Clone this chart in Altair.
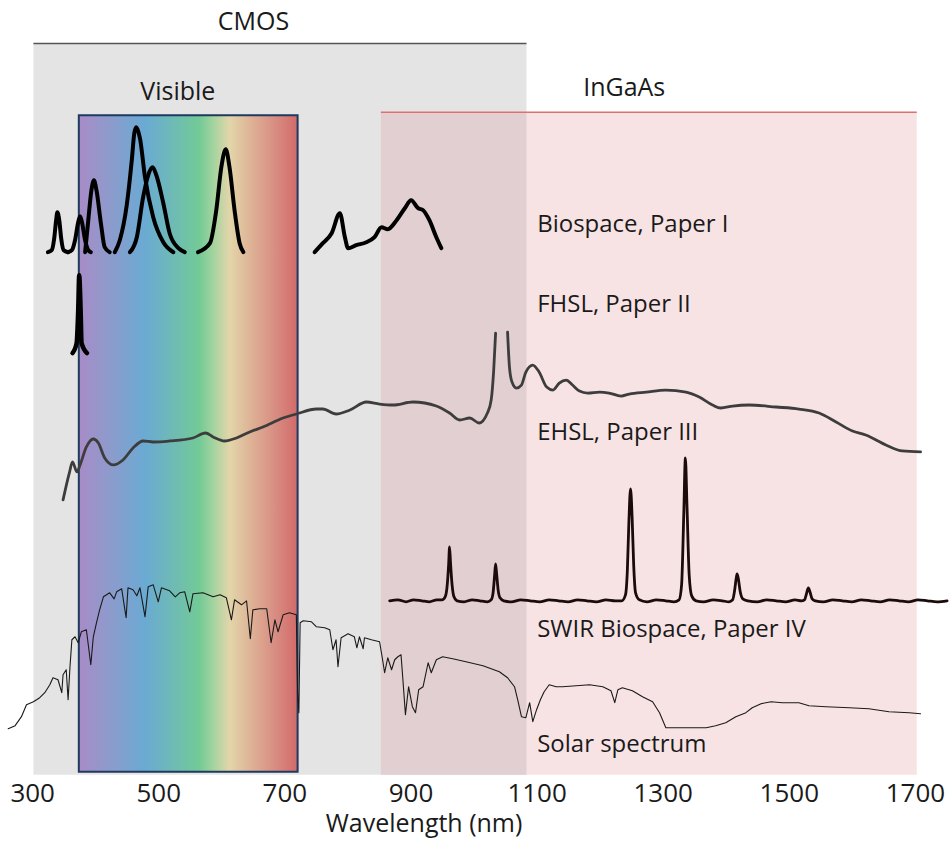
import altair as alt
import pandas as pd

# ---------------------------------------------------------------
# Spectra: (wavelength in nm, stacked signal level in a.u.)
# ---------------------------------------------------------------
bio_a = [(325, 523), (331, 525), (335, 537), (338, 555), (340, 563), (343, 555), (346, 537), (350, 525), (357, 523)]
bio_b = [(357, 523), (363, 525), (368, 535), (373, 553), (376, 559), (379, 553), (384, 535), (389, 525), (393, 523)]
bio_c = [(384, 523), (389, 555), (394, 585), (398, 595), (402, 585), (409, 552), (415, 528), (423, 523)]
bio_d = [(431, 523), (439, 535), (450, 570), (458, 615), (462, 642), (465, 648), (467, 646), (471, 637),
         (479, 598), (492, 558), (508, 533), (524, 523)]
bio_e = [(455, 523), (466, 538), (476, 578), (484, 600), (491, 608), (497, 600), (508, 572), (518, 542),
         (532, 527), (542, 523)]
bio_f = [(563, 523), (582, 532), (592, 565), (600, 608), (607, 626), (613, 608), (621, 565), (629, 532), (635, 523)]
bio_nir = [(748, 523), (761, 532), (775, 542), (788, 562), (796, 538), (801, 527), (814, 530), (830, 533),
           (843, 538), (854, 548), (864, 546), (878, 555), (891, 567), (901, 575), (912, 567), (920, 565),
           (930, 555), (941, 538), (949, 527)]

fhsl = [(364, 422), (370.5, 432), (373, 465), (374.6, 500), (376.9, 465), (378.4, 432), (387, 422)]

# EHSL is clipped at the top of the strong 1040 nm line, so it is drawn in two parts
ehsl_a = [(349, 275), (359, 302), (364, 313), (371, 303), (376, 310), (386, 328), (397, 336), (405, 332),
          (415, 317), (429, 310), (444, 315), (460, 327), (476, 334), (492, 333), (518, 334), (555, 337),
          (575, 342), (587, 338), (605, 334), (624, 337), (645, 343), (666, 348), (698, 357), (719, 361),
          (751, 366), (761, 366), (782, 361), (804, 365), (830, 373), (851, 371), (872, 370), (904, 373),
          (941, 369), (962, 362), (978, 355), (994, 357), (1009, 352), (1022, 362), (1028, 375),
          (1032, 405), (1035, 442)]
ehsl_b = [(1054, 443), (1057, 408), (1061, 393), (1068, 387), (1076, 390), (1083, 403), (1094, 410),
          (1104, 403), (1116, 388), (1126, 385), (1136, 392), (1147, 395), (1157, 390), (1168, 384),
          (1181, 382), (1200, 383), (1215, 382), (1234, 379), (1247, 381), (1274, 383), (1305, 385),
          (1337, 383), (1358, 378), (1379, 370), (1392, 367), (1411, 369), (1437, 370), (1480, 368),
          (1516, 366), (1548, 362), (1575, 353), (1601, 344), (1622, 340), (1654, 330), (1680, 324),
          (1709, 323)]

swir = [(867, 174), (880, 175), (893, 173), (905, 175), (918, 174), (930, 173), (942, 175),
        (950, 175), (955, 178), (958, 188), (960.5, 210), (962, 228), (963.5, 212), (966, 190), (969, 178),
        (974, 174), (985, 173), (998, 175), (1010, 174), (1022, 173),
        (1028, 175), (1031, 182), (1033.5, 200), (1035, 211), (1036.5, 202), (1039, 185), (1042, 177),
        (1048, 174), (1060, 173), (1075, 175), (1090, 174), (1105, 173), (1120, 175), (1135, 174),
        (1150, 173), (1165, 175), (1180, 174), (1195, 173), (1210, 175), (1225, 174),
        (1235, 174), (1241, 180), (1244, 205), (1246.5, 255), (1249, 286), (1251.5, 258), (1254, 210),
        (1257, 182), (1263, 175), (1275, 173), (1290, 175), (1305, 174), (1318, 173),
        (1326, 175), (1330, 190), (1333.5, 262), (1336, 317), (1338.5, 270), (1342, 200), (1346, 179),
        (1353, 174), (1365, 173), (1380, 175), (1395, 174), (1405, 173),
        (1411, 175), (1414, 184), (1416.5, 196), (1418, 201), (1420, 196), (1423, 183), (1427, 176),
        (1435, 174), (1450, 173), (1465, 175), (1480, 174), (1495, 173), (1510, 175), (1520, 174),
        (1525, 175), (1528, 181), (1531, 187), (1534, 182), (1537, 176),
        (1542, 174), (1555, 173), (1570, 175), (1585, 174), (1600, 173), (1615, 175), (1630, 174),
        (1645, 173), (1660, 175), (1675, 174), (1690, 173), (1705, 175), (1720, 174), (1735, 173),
        (1751, 174)]

solar = [(262, 46), (273, 49), (283, 58), (291, 70), (302, 73), (312, 77), (320, 82), (328, 90), (333, 97),
         (341, 95), (347, 82), (349, 100), (354, 105), (357, 75), (360, 108), (363, 135), (368, 138),
         (373, 132), (378, 143), (386, 145), (393, 110), (397, 138), (402, 152), (407, 165), (413, 178),
         (423, 182), (430, 176), (434, 183), (442, 186), (449, 157), (452, 187), (460, 185), (466, 179),
         (471, 187), (479, 158), (484, 188), (492, 190), (500, 173), (505, 187), (518, 184), (527, 178),
         (534, 182), (542, 183), (550, 163), (555, 181), (571, 182), (587, 178), (598, 180), (608, 177),
         (616, 155), (621, 175), (632, 170), (640, 174), (646, 136), (650, 165), (661, 166), (672, 166),
         (679, 132), (685, 155), (690, 143), (698, 160), (708, 162), (719, 160), (721, 82), (723, 62),
         (725, 152), (730, 154), (743, 153), (751, 148), (764, 147), (772, 145), (777, 125), (782, 135),
         (785, 108), (790, 137), (801, 141), (811, 138), (815, 127), (819, 138), (825, 126), (827, 137),
         (838, 135), (851, 133), (855, 118), (859, 102), (864, 117), (870, 105), (875, 115), (880, 118),
         (885, 120), (888, 95), (892, 60), (897, 88), (903, 68), (908, 62), (913, 85), (920, 88),
         (928, 112), (933, 102), (941, 115), (951, 118), (967, 116), (988, 113), (1015, 109), (1041, 103),
         (1054, 97), (1065, 88), (1070, 75), (1076, 58), (1083, 57), (1089, 72), (1094, 53), (1100, 65),
         (1106, 75), (1112, 83), (1120, 90), (1131, 88), (1141, 88), (1163, 89), (1184, 90), (1205, 88),
         (1218, 84), (1224, 72), (1229, 85), (1236, 87), (1252, 84), (1268, 78), (1284, 73), (1295, 62),
         (1305, 47), (1332, 47), (1369, 47), (1384, 49), (1400, 52), (1416, 58), (1432, 62), (1442, 67),
         (1456, 71), (1472, 73), (1490, 72), (1516, 72), (1532, 69), (1559, 68), (1596, 67), (1627, 66),
         (1659, 63), (1691, 62), (1709, 61)]

# ---------------------------------------------------------------
# Detector ranges and the visible band
# ---------------------------------------------------------------
region_names = ["CMOS", "InGaAs", "CMOS + InGaAs"]
region_start = [302, 853, 853]
region_end = [1084, 1703, 1084]
region_top = [732, 663, 663]

visible_start, visible_end = 374, 721
visible_top, visible_bottom = 660, 3

band_labels = ["CMOS", "Visible", "InGaAs"]
band_label_nm = [651, 531, 1239]
band_label_level = [753, 683, 687]

series_labels = ["Biospace, Paper I", "FHSL, Paper II", "EHSL, Paper III",
                 "SWIR Biospace, Paper IV", "Solar spectrum"]
series_label_nm = [1101, 1101, 1101, 1101, 1101]
series_label_level = [550, 470, 342, 145, 30]

tick_values = [300, 500, 700, 900, 1100, 1300, 1500, 1700]

FONT = "Open Sans"
X_SCALE = alt.Scale(domain=[249, 1752.5], nice=False, zero=False)
Y_SCALE = alt.Scale(domain=[0, 775], nice=False, zero=False)
X_AXIS = alt.Axis(
    values=tick_values, format="d", title="Wavelength (nm)", grid=False, domain=False, ticks=False,
    labelFont=FONT, labelFontSize=26, labelColor="#1a1a1a", labelPadding=6, labelFlush=False,
    titleFont=FONT, titleFontSize=25, titleFontWeight="normal", titleColor="#1a1a1a",
    titleX=424, titleY=62, titleBaseline="bottom", titleAlign="center",
)


def xq(field):
    return alt.X(f"{field}:Q", scale=X_SCALE, axis=X_AXIS)


def yq(field):
    return alt.Y(f"{field}:Q", scale=Y_SCALE, axis=None)


def to_frame(parts):
    rows = []
    for i, pts in enumerate(parts):
        for nm, level in pts:
            rows.append({"nm": nm, "level": level, "part": i})
    return pd.DataFrame(rows)


def spectrum(parts, color, width, interp):
    return alt.Chart(to_frame(parts)).mark_line(
        color=color, strokeWidth=width, interpolate=interp, strokeCap="round", strokeJoin="round"
    ).encode(x=xq("nm"), y=yq("level"), detail="part:N", order="nm:Q")


regions_df = pd.DataFrame({"name": region_names, "start": region_start,
                           "end": region_end, "top": region_top})
regions = alt.Chart(regions_df).mark_rect().encode(
    x=xq("start"), x2="end:Q", y=yq("top"), y2=alt.datum(0),
    color=alt.Color("name:N", legend=None,
                    scale=alt.Scale(domain=region_names, range=["#e4e4e4", "#f8e3e4", "#e1cfd1"])),
)

visible_df = pd.DataFrame({"start": [visible_start], "end": [visible_end],
                           "top": [visible_top], "bottom": [visible_bottom]})
rainbow = alt.Gradient(
    gradient="linear", x1=0, x2=1, y1=0, y2=0,
    stops=[
        alt.GradientStop(offset=0.0, color="#a88bc7"),
        alt.GradientStop(offset=0.15, color="#8b9ccc"),
        alt.GradientStop(offset=0.3, color="#6aaad3"),
        alt.GradientStop(offset=0.45, color="#6fbdb0"),
        alt.GradientStop(offset=0.55, color="#72ca96"),
        alt.GradientStop(offset=0.62, color="#a8d4a0"),
        alt.GradientStop(offset=0.69, color="#e3d5aa"),
        alt.GradientStop(offset=0.8, color="#ddae93"),
        alt.GradientStop(offset=0.9, color="#d88c82"),
        alt.GradientStop(offset=1.0, color="#d26a6a"),
    ],
)
visible = alt.Chart(visible_df).mark_rect(fill=rainbow, stroke="#1f3a5f", strokeWidth=2).encode(
    x=xq("start"), x2="end:Q", y=yq("top"), y2="bottom:Q"
)

# Detector range bars above the shaded regions
cmos_bar = alt.Chart(regions_df.iloc[[0]]).mark_rule(color="#555555", strokeWidth=1.5).encode(
    x=xq("start"), x2="end:Q", y=yq("top"))
ingaas_bar = alt.Chart(regions_df.iloc[[1]]).mark_rule(color="#e07070", strokeWidth=1.5).encode(
    x=xq("start"), x2="end:Q", y=yq("top"))

solar_line = spectrum([solar], "#1a1a1a", 1.1, "linear")
swir_line = spectrum([swir], "#1b0b0b", 2.8, "monotone")
ehsl_line = spectrum([ehsl_a, ehsl_b], "#3d3d3d", 2.8, "monotone")
fhsl_line = spectrum([fhsl], "#000000", 4.5, "monotone")
bio_lines = spectrum([bio_a, bio_b, bio_c, bio_d, bio_e, bio_f, bio_nir], "#000000", 4, "monotone")

band_text = alt.Chart(pd.DataFrame({"label": band_labels, "nm": band_label_nm,
                                    "level": band_label_level})).mark_text(
    font=FONT, fontSize=25, align="center", baseline="middle", color="#1a1a1a"
).encode(x=xq("nm"), y=yq("level"), text="label:N")

series_text = alt.Chart(pd.DataFrame({"label": series_labels, "nm": series_label_nm,
                                      "level": series_label_level})).mark_text(
    font=FONT, fontSize=24, align="left", baseline="middle", color="#1a1a1a"
).encode(x=xq("nm"), y=yq("level"), text="label:N")

chart = alt.layer(
    regions, visible, cmos_bar, ingaas_bar,
    solar_line, swir_line, ehsl_line, fhsl_line, bio_lines,
    band_text, series_text,
).properties(
    width=949, height=775, background="white",
    padding={"left": 0, "right": 0, "top": 0, "bottom": 4},
).configure_view(stroke=None)

chart.save("out.html", embed_options={"renderer": "svg", "actions": False})
